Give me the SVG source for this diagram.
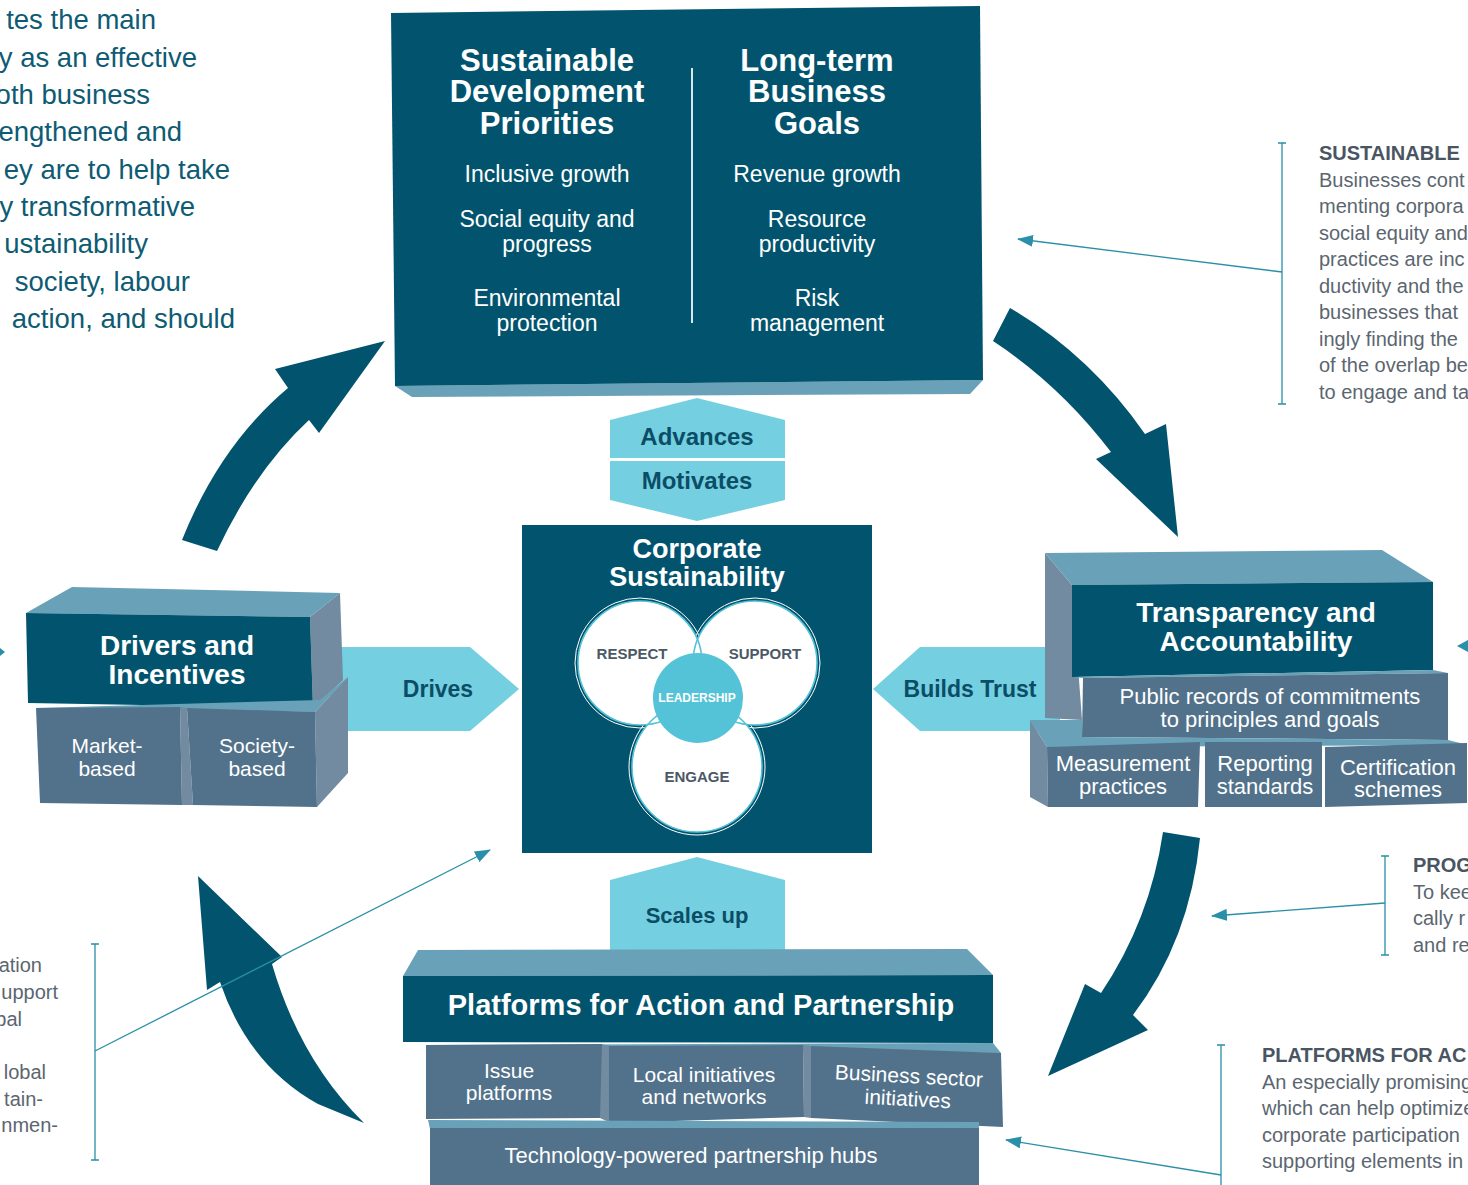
<svg xmlns="http://www.w3.org/2000/svg" width="1468" height="1185" viewBox="0 0 1468 1185">
<defs>
<style>
.dk{fill:#02546e}
.fr{fill:#52728b}
.tp{fill:#69a2b8}
.sd{fill:#728ba1}
.hx{fill:#74d0e0}
.t{font-family:"Liberation Sans",Arial,sans-serif}
.wb{fill:#fff;font-weight:bold;text-anchor:middle}
.w{fill:#fff;text-anchor:middle}
.hl{fill:#0b4d66;font-weight:bold;text-anchor:middle}
.vl{fill:#4b5866;font-weight:bold;text-anchor:middle;font-size:15px}
.side{fill:#5b6670;font-size:20px}
.sideh{fill:#4a5563;font-size:20px;font-weight:bold}
.intro{fill:#0e5b74;font-size:27.5px;text-anchor:end}
.br{stroke:#2a8fa8;stroke-width:1.3;fill:none}
.cw{fill:#fff}
.cs{fill:none;stroke:#55c3d7;stroke-width:1.6}
.co{fill:none;stroke:#fff;stroke-width:1}
</style>
<marker id="ah" markerWidth="16" markerHeight="12" refX="15" refY="6" orient="auto" markerUnits="userSpaceOnUse"><path d="M0,0 L16,6 L0,12 z" fill="#2a8fa8"/></marker>
</defs>
<rect width="1468" height="1185" fill="#fff"/>

<!-- intro text -->
<g id="intro-text" class="t intro">
<text x="156" y="29">tes the main</text>
<text x="197" y="67">y as an effective</text>
<text x="150" y="104">oth business</text>
<text x="182" y="141">engthened and</text>
<text x="230" y="179">ey are to help take</text>
<text x="195" y="216">y transformative</text>
<text x="148" y="253">ustainability</text>
<text x="190" y="291">society, labour</text>
<text x="235" y="328">action, and should</text>
</g>

<!-- side texts -->
<g id="note-sustainable" class="t">
<text class="sideh" x="1319" y="160">SUSTAINABLE</text>
<text class="side" x="1319" y="187">Businesses cont</text>
<text class="side" x="1319" y="213">menting corpora</text>
<text class="side" x="1319" y="240">social equity and</text>
<text class="side" x="1319" y="266">practices are inc</text>
<text class="side" x="1319" y="293">ductivity and the</text>
<text class="side" x="1319" y="319">businesses that</text>
<text class="side" x="1319" y="346">ingly finding the</text>
<text class="side" x="1319" y="372">of the overlap be</text>
<text class="side" x="1319" y="399">to engage and ta</text>
</g>
<g id="note-prog" class="t">
<text class="sideh" x="1413" y="872">PROG</text>
<text class="side" x="1413" y="899">To kee</text>
<text class="side" x="1413" y="925">cally r</text>
<text class="side" x="1413" y="952">and re</text>
</g>
<g id="note-platforms" class="t">
<text class="sideh" x="1262" y="1062">PLATFORMS FOR AC</text>
<text class="side" x="1262" y="1089">An especially promising</text>
<text class="side" x="1262" y="1115">which can help optimize</text>
<text class="side" x="1262" y="1142">corporate participation</text>
<text class="side" x="1262" y="1168">supporting elements in</text>
</g>
<g id="note-left" class="t side" text-anchor="end">
<text x="42" y="972">ation</text>
<text x="58" y="999">upport</text>
<text x="22" y="1026">bal</text>
<text x="46" y="1079">lobal</text>
<text x="43" y="1106">tain-</text>
<text x="58" y="1132">nmen-</text>
</g>

<!-- big cycle arrows -->
<g id="cycle-arrows" class="dk">
<path d="M182,540 Q220,445 288,388 L275,369 L385,341 L319,433 L309,420 Q255,470 217,551 Z"/>
<path d="M1010,308 Q1090,355 1145,434 L1166,424 L1178,537 L1096,459 L1111,452 Q1060,385 993,341 Z"/>
<path d="M1200,838 Q1190,940 1133,1015 L1148,1030 L1048,1076 L1085,984 L1101,993 Q1150,920 1163,832 Z"/>
<path d="M364,1123 Q300,1060 272,964 L282,957 L198,876 L207,990 L220,982 Q248,1065 318,1104 Z"/>
</g>

<!-- light connector shapes -->
<g id="link-advances">
<path class="hx" d="M610,420 L697,398 L785,420 L785,500 L697,521 L610,500 Z"/>
<rect x="610" y="458" width="175" height="3" fill="#fff"/>
<text class="t hl" x="697" y="445" font-size="24">Advances</text>
<text class="t hl" x="697" y="489" font-size="24">Motivates</text>
</g>
<g id="link-drives">
<path class="hx" d="M330,647 L470,647 L519,689 L470,731 L330,731 Z"/>
<text class="t hl" x="438" y="697" font-size="23">Drives</text>
</g>
<g id="link-builds-trust">
<path class="hx" d="M873,689 L920,647 L1060,647 L1060,731 L920,731 Z"/>
<text class="t hl" x="970" y="697" font-size="23">Builds Trust</text>
</g>
<g id="link-scales-up">
<path class="hx" d="M610,880 L697,857 L785,880 L785,965 L610,965 Z"/>
<text class="t hl" x="697" y="923" font-size="22">Scales up</text>
</g>

<!-- top node -->
<g id="node-priorities-goals">
<path class="tp" d="M395,386 L983,380 L970,394 L412,397 Z"/>
<path class="dk" d="M391,13 L980,6 L983,380 L395,386 Z"/>
<line x1="692" y1="68" x2="692" y2="323" stroke="#d8e8ee" stroke-width="2"/>
<g class="t wb" font-size="31">
<text x="547" y="71">Sustainable</text>
<text x="547" y="102">Development</text>
<text x="547" y="134">Priorities</text>
<text x="817" y="71">Long-term</text>
<text x="817" y="102">Business</text>
<text x="817" y="134">Goals</text>
</g>
<g class="t w" font-size="23">
<text x="547" y="182">Inclusive growth</text>
<text x="547" y="227">Social equity and</text>
<text x="547" y="252">progress</text>
<text x="547" y="306">Environmental</text>
<text x="547" y="331">protection</text>
<text x="817" y="182">Revenue growth</text>
<text x="817" y="227">Resource</text>
<text x="817" y="252">productivity</text>
<text x="817" y="306">Risk</text>
<text x="817" y="331">management</text>
</g>
</g>

<!-- center node -->
<g id="node-corporate-sustainability">
<rect class="dk" x="522" y="525" width="350" height="328"/>
<text class="t wb" x="697" y="558" font-size="27">Corporate</text>
<text class="t wb" x="697" y="586" font-size="27">Sustainability</text>
<circle class="co" cx="640" cy="663" r="65"/>
<circle class="co" cx="755" cy="663" r="65"/>
<circle class="co" cx="697" cy="767" r="68"/>
<circle class="cw" cx="640" cy="663" r="62"/>
<circle class="cw" cx="755" cy="663" r="62"/>
<circle class="cw" cx="697" cy="767" r="65"/>
<circle class="cs" cx="640" cy="663" r="62"/>
<circle class="cs" cx="755" cy="663" r="62"/>
<circle class="cs" cx="697" cy="767" r="65"/>
<circle cx="698" cy="698" r="45" fill="#55c3d7"/>
<text class="t vl" x="632" y="659">RESPECT</text>
<text class="t vl" x="765" y="659">SUPPORT</text>
<text class="t vl" x="697" y="782">ENGAGE</text>
<text class="t wb" x="697" y="702" font-size="12">LEADERSHIP</text>
</g>

<!-- drivers node -->
<g id="node-drivers">
<path class="tp" d="M26,613 L72,587 L340,593 L310,617 Z"/>
<path class="sd" d="M310,617 L340,593 L343,680 L313,708 Z"/>
<path class="dk" d="M26,613 L310,617 L313,708 L28,703 Z"/>
<path class="tp" d="M36,708 L315,712 L348,677 L320,700 Z"/>
<path class="sd" d="M315,712 L348,677 L348,773 L317,807 Z"/>
<path class="sd" d="M180,707 L187,708 L193,805 L182,805 Z"/>
<path class="fr" d="M36,708 L180,707 L182,805 L40,803 Z"/>
<path class="fr" d="M187,708 L315,712 L317,807 L193,805 Z"/>
<text class="t wb" x="177" y="655" font-size="28">Drivers and</text>
<text class="t wb" x="177" y="684" font-size="28">Incentives</text>
<g class="t w" font-size="21">
<text x="107" y="753">Market-</text>
<text x="107" y="776">based</text>
<text x="257" y="753">Society-</text>
<text x="257" y="776">based</text>
</g>
</g>

<!-- transparency node -->
<g id="node-transparency">
<path class="sd" d="M1045,553 L1072,585 L1082,720 L1045,718 Z"/>
<path class="tp" d="M1045,553 L1382,550 L1433,582 L1072,585 Z"/>
<path class="dk" d="M1072,585 L1433,582 L1433,670 L1072,677 Z"/>
<path class="tp" d="M1072,677 L1433,670 L1448,673 L1083,678 Z"/>
<path class="fr" d="M1083,678 L1448,673 L1448,740 L1082,737 Z"/>
<path class="tp" d="M1030,720 L1082,720 L1082,737 L1448,740 L1468,745 L1047,747 Z"/>
<path class="sd" d="M1030,720 L1047,747 L1048,807 L1030,797 Z"/>
<path class="fr" d="M1047,747 L1200,742 L1198,807 L1048,807 Z"/>
<path class="fr" d="M1205,742 L1322,742 L1322,807 L1205,807 Z"/>
<path class="fr" d="M1325,747 L1467,743 L1467,803 L1325,807 Z"/>
<text class="t wb" x="1256" y="622" font-size="28">Transparency and</text>
<text class="t wb" x="1256" y="651" font-size="28">Accountability</text>
<g class="t w" font-size="22">
<text x="1270" y="704">Public records of commitments</text>
<text x="1270" y="727">to principles and goals</text>
<text x="1123" y="771">Measurement</text>
<text x="1123" y="794">practices</text>
<text x="1265" y="771">Reporting</text>
<text x="1265" y="794">standards</text>
<text x="1398" y="775">Certification</text>
<text x="1398" y="797">schemes</text>
</g>
</g>

<!-- platforms node -->
<g id="node-platforms">
<path class="tp" d="M403,976 L418,950 L967,949 L993,975 Z"/>
<path class="dk" d="M403,976 L993,975 L993,1043 L403,1042 Z"/>
<path class="tp" d="M426,1045 L993,1043 L1001,1053 L426,1050 Z"/>
<path class="sd" d="M600,1044 L611,1046 L611,1123 L600,1118 Z"/>
<path class="sd" d="M803,1045 L811,1046 L811,1118 L804,1117 Z"/>
<path class="fr" d="M426,1045 L602,1044 L600,1118 L426,1119 Z"/>
<path class="fr" d="M609,1046 L803,1045 L804,1117 L609,1123 Z"/>
<path class="fr" d="M811,1046 L1001,1053 L1003,1127 L811,1118 Z"/>
<path class="tp" d="M428,1120 L979,1122 L979,1129 L430,1129 Z"/>
<path class="fr" d="M430,1128 L979,1128 L979,1185 L430,1185 Z"/>
<text class="t wb" x="701" y="1015" font-size="29">Platforms for Action and Partnership</text>
<g class="t w" font-size="21">
<text x="509" y="1078">Issue</text>
<text x="509" y="1100">platforms</text>
<text x="704" y="1082">Local initiatives</text>
<text x="704" y="1104">and networks</text>
<g transform="rotate(3 908 1094)">
<text x="908" y="1083">Business sector</text>
<text x="908" y="1106">initiatives</text>
</g>
<text x="691" y="1163" font-size="22">Technology-powered partnership hubs</text>
</g>
</g>

<!-- thin connectors -->
<g id="connectors">
<path class="br" d="M1278,143 H1286 M1282,143 V404 M1278,404 H1286"/>
<line class="br" x1="1282" y1="272" x2="1018" y2="239" marker-end="url(#ah)"/>
<path class="br" d="M1381,856 H1389 M1385,856 V955 M1381,955 H1389"/>
<line class="br" x1="1385" y1="903" x2="1212" y2="916" marker-end="url(#ah)"/>
<path class="br" d="M1217,1045 H1225 M1221,1045 V1185"/>
<line class="br" x1="1221" y1="1175" x2="1006" y2="1140" marker-end="url(#ah)"/>
<path class="br" d="M91,944 H99 M95,944 V1160 M91,1160 H99"/>
<line class="br" x1="95" y1="1051" x2="490" y2="850" marker-end="url(#ah)"/>
<path d="M1468,640 L1457,646 L1468,652 Z" fill="#2a8fa8"/>
<path d="M0,648 L5,652 L0,656 Z" fill="#2a8fa8"/>
</g>
</svg>
